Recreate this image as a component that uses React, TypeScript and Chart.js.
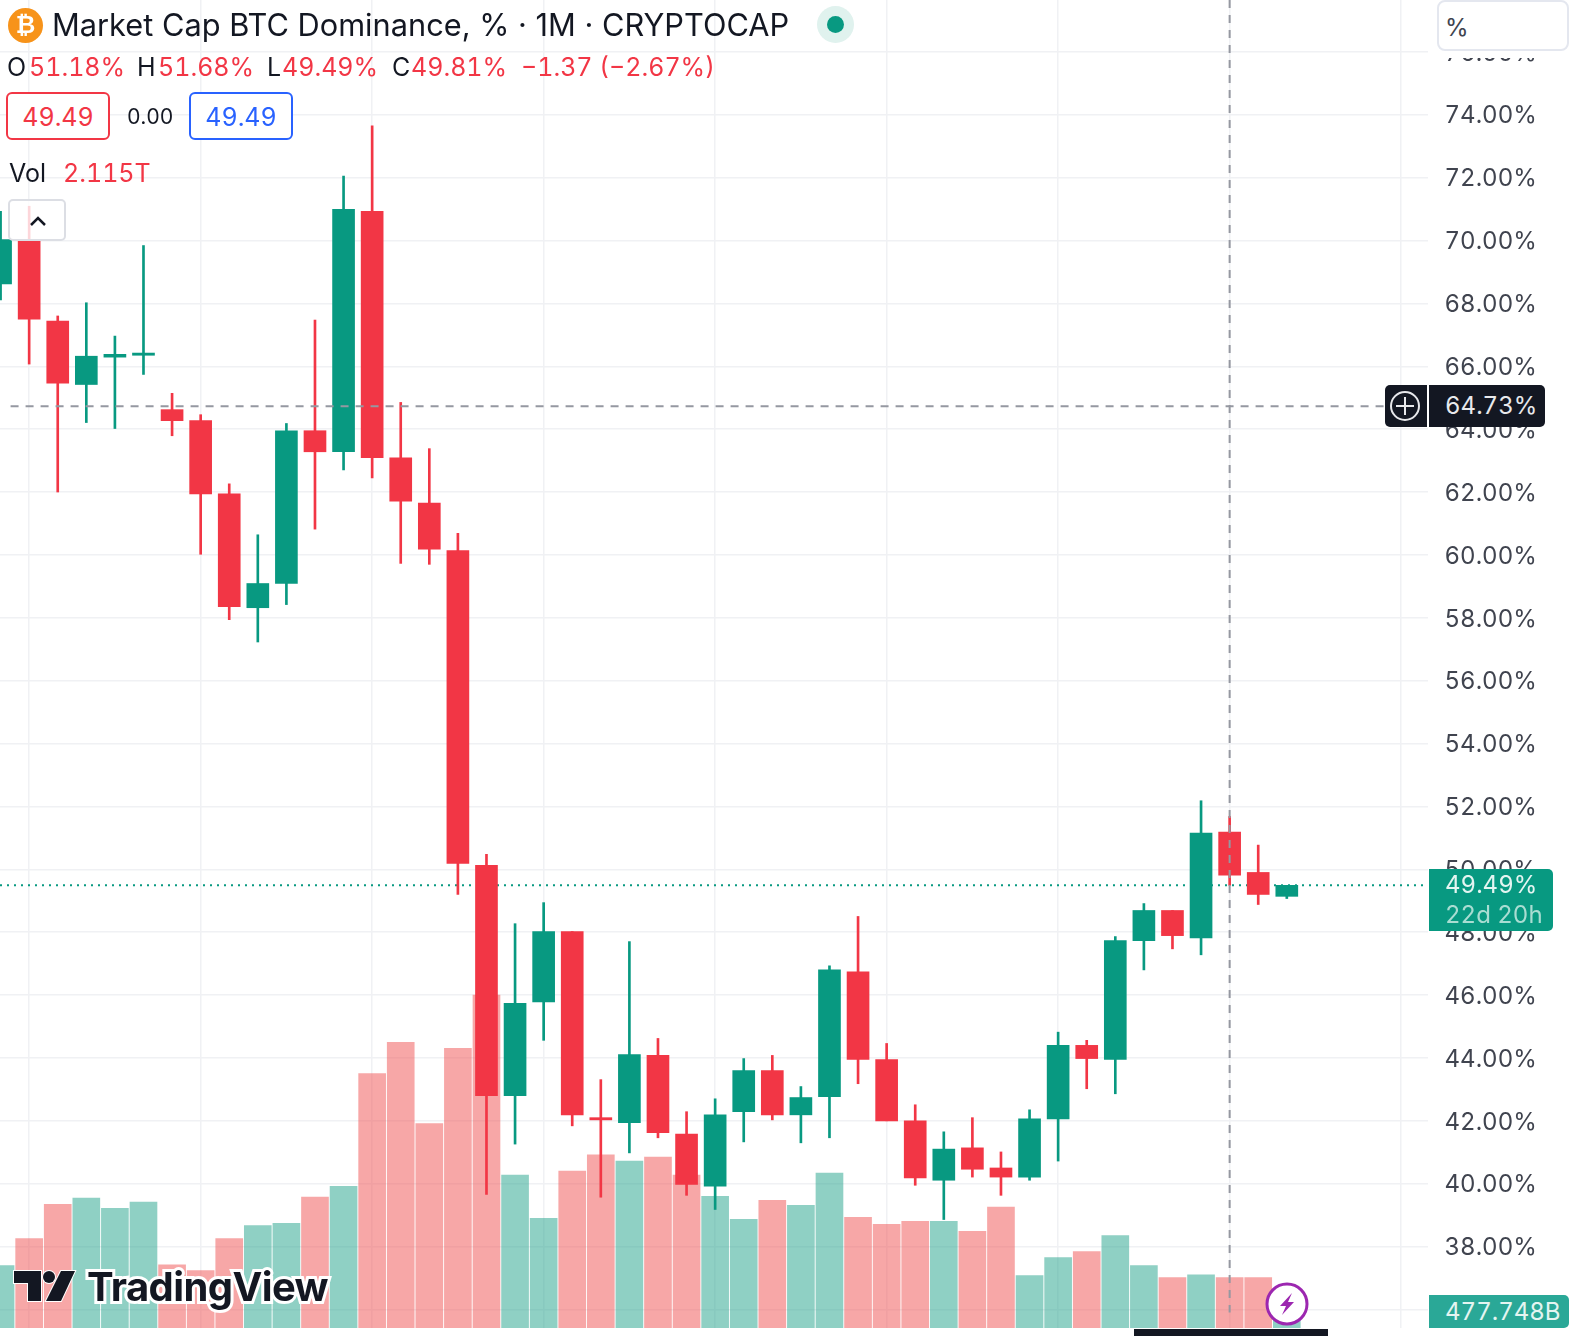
import React, { useEffect, useRef } from "react";
import { Chart, registerables } from "chart.js";

Chart.register(...registerables);

const opens = [68.62,70.03,67.44,65.42,66.29,66.35,64.62,64.27,61.94,58.32,59.09,63.95,63.28,70.93,63.09,61.65,60.14,50.13,42.80,45.78,48.02,42.10,41.94,44.08,41.58,39.92,42.29,43.60,42.19,42.77,46.74,43.95,42.00,40.11,41.14,40.50,40.21,42.06,44.40,43.95,47.73,48.69,47.82,51.18,49.90,49.14];
const highs = [70.93,71.09,67.60,68.02,66.96,69.84,65.14,64.46,62.26,60.64,64.18,67.47,72.05,73.65,64.85,63.38,60.69,50.48,48.27,48.94,48.02,43.31,47.70,44.62,42.29,42.70,43.98,44.08,43.09,46.93,48.50,44.46,42.51,41.65,42.10,41.01,42.35,44.82,44.56,47.86,48.91,48.69,52.18,51.68,50.77,49.49];
const lows = [68.11,66.07,62.00,64.21,64.02,65.74,63.79,60.02,57.94,57.23,58.42,60.82,62.70,62.45,59.73,59.70,49.20,39.66,41.26,44.56,41.84,39.57,40.98,41.46,39.63,39.18,41.33,42.03,41.30,41.46,43.18,42.00,39.95,38.86,40.21,39.63,40.11,40.72,43.02,42.86,46.80,47.47,47.28,49.49,48.88,49.07];
const closes = [70.03,67.50,65.46,66.32,66.38,66.42,64.27,61.94,58.35,59.09,63.95,63.28,70.99,63.09,61.71,60.18,50.19,42.80,45.74,48.02,42.19,42.03,44.11,41.62,39.98,42.19,43.60,42.19,42.74,46.80,43.95,42.00,40.18,41.10,40.46,40.21,42.06,44.40,43.98,47.73,48.69,47.89,51.15,49.81,49.20,49.49];
const volumesT = [2.62,3.76,5.20,5.46,5.03,5.29,2.66,2.41,3.76,4.31,4.40,5.50,5.96,10.70,12.01,8.59,11.76,14.00,6.43,4.61,6.60,7.28,7.02,7.19,6.43,5.54,4.57,5.37,5.16,6.51,4.65,4.36,4.48,4.48,4.06,5.08,2.20,2.96,3.21,3.89,2.62,2.115,2.24,2.115,2.115,0.478];
const priceTicks = [36,38,40,42,44,46,48,50,52,54,56,58,60,62,64,66,68,70,72,74,76];
const gridCandles = [1,7,13,19,25,31,37,43,49];
const crosshairPrice = 64.73;
const crosshairCandle = 43;
const lastPrice = 49.49;

const RED = "#F23645";
const GREEN = "#089981";
const INK = "#131722";
const FONT = "Inter, 'Noto Sans', sans-serif";

type BoxProps = { x: number; y: number; w?: number; h?: number; style?: React.CSSProperties; children?: React.ReactNode };
function Box({ x, y, w, h, style, children }: BoxProps) {
  return (
    <div style={{ position: "absolute", left: x, top: y, width: w, height: h, whiteSpace: "nowrap", boxSizing: "border-box", ...style }}>
      {children}
    </div>
  );
}

function Txt({ x, cy, size = 25, color = INK, children, style }: { x: number; cy: number; size?: number; color?: string; children: React.ReactNode; style?: React.CSSProperties }) {
  return (
    <div style={{ position: "absolute", left: x, top: cy - 30, height: 60, lineHeight: "60px", fontSize: size, color, whiteSpace: "nowrap", ...style }}>
      {children}
    </div>
  );
}

export default function App() {
  const ref = useRef<HTMLCanvasElement>(null);
  useEffect(() => {
    const idx = opens.map((_, i) => i);
    const up = idx.map((i) => closes[i] >= opens[i]);
    const chart = new Chart(ref.current as HTMLCanvasElement, {
      data: {
        datasets: [
          {
            type: "bar",
            yAxisID: "vol",
            order: 9,
            grouped: false,
            barThickness: 27,
            data: idx.map((i) => ({ x: i, y: volumesT[i] })),
            backgroundColor: idx.map((i) => (up[i] ? "rgba(31,161,137,0.5)" : "rgba(239,79,79,0.5)")),
          },
          {
            type: "line",
            yAxisID: "y",
            order: 8,
            pointRadius: 0,
            borderWidth: 2,
            borderDash: [2, 5],
            borderColor: GREEN,
            data: [{ x: -1, y: lastPrice }, { x: 51, y: lastPrice }],
          },
          {
            type: "bar",
            yAxisID: "y",
            order: 7,
            grouped: false,
            barThickness: 2,
            data: idx.map((i) => ({ x: i, y: [lows[i], highs[i]] })),
            backgroundColor: idx.map((i) => (up[i] ? GREEN : RED)),
          },
          {
            type: "bar",
            yAxisID: "y",
            order: 6,
            grouped: false,
            barThickness: 22,
            data: idx.map((i) => ({ x: i, y: [opens[i], closes[i]] })),
            backgroundColor: idx.map((i) => (up[i] ? GREEN : RED)),
          },
          {
            type: "line",
            yAxisID: "y",
            order: 2,
            pointRadius: 0,
            borderWidth: 2,
            borderDash: [8, 7],
            borderColor: "#9598a1",
            data: [{ x: 0.35, y: crosshairPrice }, { x: 48.45, y: crosshairPrice }],
          },
          {
            type: "line",
            yAxisID: "y",
            order: 1,
            pointRadius: 0,
            borderWidth: 2,
            borderDash: [8, 7],
            borderColor: "#9598a1",
            data: [{ x: crosshairCandle, y: 77.65 }, { x: crosshairCandle, y: 35.9 }],
          },
        ],
      } as any,
      options: {
        responsive: false,
        animation: false,
        layout: { padding: { top: 0, right: 0, bottom: 8, left: 0 } },
        plugins: { legend: { display: false }, tooltip: { enabled: false } },
        scales: {
          x: {
            type: "linear",
            offset: false,
            min: -0.02,
            max: 49.94,
            border: { display: false },
            grid: { offset: false, color: "#f0f1f4", lineWidth: 1.5, drawTicks: false },
            ticks: { display: false },
            afterBuildTicks: (s: any) => { s.ticks = gridCandles.map((value) => ({ value })); },
          },
          y: {
            position: "right",
            min: 35.41,
            max: 77.65,
            border: { display: false },
            grid: { color: "#f0f1f4", lineWidth: 1.5, drawTicks: false },
            ticks: {
              color: "#40444f",
              padding: 16.5,
              font: { family: FONT, size: 24, lineHeight: "3px" },
              callback: (v: any) => ["", `${Number(v).toFixed(2)}%`],
            },
            afterBuildTicks: (s: any) => { s.ticks = priceTicks.map((value) => ({ value })); },
            afterFit: (s: any) => { s.width = 150; s.paddingTop = 0; s.paddingBottom = 0; },
          },
          vol: { display: false, min: 0, max: 55.83 },
        },
      } as any,
    });
    return () => chart.destroy();
  }, []);

  const labelText: React.CSSProperties = { fontSize: 24 };

  return (
    <div style={{ position: "absolute", left: 0, top: 0, width: 1578, height: 1336, overflow: "hidden", background: "#fff", fontFamily: FONT, fontVariantNumeric: "tabular-nums" }}>
      <canvas ref={ref} width={1578} height={1336} style={{ position: "absolute", left: 0, top: 0, display: "block" }} />

      {/* symbol header */}
      <Box x={8} y={8} w={35} h={35} style={{ borderRadius: "50%", background: "#F7931A", color: "#fff", fontSize: 24, fontWeight: 700, textAlign: "center", lineHeight: "35px", fontFamily: "'DejaVu Sans', sans-serif" }}>₿</Box>
      <Txt x={52} cy={25} size={30.75} style={{ fontVariantNumeric: "normal" }}>Market Cap BTC Dominance, % · 1M · CRYPTOCAP</Txt>
      <Box x={817} y={6} w={37} h={37} style={{ borderRadius: "50%", background: "#e0f2ee" }} />
      <Box x={827} y={16} w={17} h={17} style={{ borderRadius: "50%", background: GREEN }} />

      {/* OHLC row */}
      <Txt x={7} cy={67}>O</Txt>
      <Txt x={29} cy={67} color={RED}>51.18%</Txt>
      <Txt x={137} cy={67}>H</Txt>
      <Txt x={158} cy={67} color={RED}>51.68%</Txt>
      <Txt x={267} cy={67}>L</Txt>
      <Txt x={282} cy={67} color={RED}>49.49%</Txt>
      <Txt x={392} cy={67}>C</Txt>
      <Txt x={411} cy={67} color={RED}>49.81%</Txt>
      <Txt x={521} cy={67} color={RED}>−1.37 (−2.67%)</Txt>

      {/* spread boxes */}
      <Box x={6} y={92} w={104} h={48} style={{ border: `2px solid ${RED}`, borderRadius: 6, background: "#fff", color: RED, fontSize: 25, lineHeight: "46px", textAlign: "center" }}>49.49</Box>
      <Txt x={127} cy={117} size={21}>0.00</Txt>
      <Box x={189} y={92} w={104} h={48} style={{ border: "2px solid #2962FF", borderRadius: 6, background: "#fff", color: "#2962FF", fontSize: 25, lineHeight: "46px", textAlign: "center" }}>49.49</Box>

      {/* volume legend */}
      <Txt x={9} cy={173}>Vol</Txt>
      <Txt x={63} cy={173} color={RED}>2.115T</Txt>

      {/* collapse button */}
      <Box x={8} y={199} w={58} h={42} style={{ border: "2px solid #dcdee4", borderRadius: 5, background: "rgba(255,255,255,0.8)" }}>
        <svg width="54" height="38" style={{ display: "block" }}>
          <path d="M21 24 L28 17 L35 24" fill="none" stroke={INK} strokeWidth="2.5" />
        </svg>
      </Box>

      {/* scale mode box */}
      <Box x={1437} y={51} w={132} h={7} style={{ background: "#fff" }} />
      <Box x={1437} y={0} w={132} h={51} style={{ border: "2px solid #e4e7ef", borderRadius: 8, background: "#fff", color: "#40444f", fontSize: 24, lineHeight: "52px", paddingLeft: 6 }}>%</Box>

      {/* crosshair labels */}
      <Box x={1385} y={385} w={42} h={42} style={{ background: INK, borderRadius: "5px 0 0 5px" }}>
        <svg width="42" height="42" style={{ display: "block" }}>
          <circle cx="20" cy="21" r="14" fill="none" stroke="#e8e9ec" strokeWidth="2" />
          <path d="M20 12 V30 M11 21 H29" stroke="#e8e9ec" strokeWidth="2" />
        </svg>
      </Box>
      <Box x={1429} y={385} w={116} h={42} style={{ background: INK, borderRadius: "0 5px 5px 0", color: "#e8e9ec", lineHeight: "42px", paddingLeft: 16, ...labelText }}>64.73%</Box>

      {/* last price label */}
      <Box x={1429} y={869} w={124} h={62} style={{ background: GREEN, borderRadius: "0 5px 5px 0", color: "#e4f5f1", paddingLeft: 16, paddingTop: 1, lineHeight: "30px", ...labelText }}>
        <div>49.49%</div>
        <div style={{ color: "#a9ddd2" }}>22d 20h</div>
      </Box>

      {/* last volume label */}
      <Box x={1429} y={1295} w={140} h={33} style={{ background: "#2AA897", borderRadius: "0 5px 5px 0", color: "#e4f5f1", lineHeight: "34px", paddingLeft: 16, ...labelText }}>477.748B</Box>

      {/* TradingView mark */}
      <svg width="70" height="40" style={{ position: "absolute", left: 11, top: 1268 }}>
        <g fill={INK} stroke="#fff" strokeWidth="2" paintOrder="stroke">
          <path d="M3 3 H30 V33 H17 V15 H3 Z" />
          <circle cx="38" cy="9" r="6" />
          <path d="M50 3 H64 L50 33 H35 Z" />
        </g>
      </svg>
      <Txt x={87} cy={1287} size={40} style={{ fontWeight: 700, letterSpacing: -0.6, WebkitTextStroke: "6px #fff", paintOrder: "stroke fill" } as React.CSSProperties}>TradingView</Txt>

      {/* lightning badge */}
      <svg width="46" height="46" style={{ position: "absolute", left: 1264, top: 1282 }}>
        <circle cx="23" cy="22" r="20" fill="#fff" stroke="#9C27B0" strokeWidth="3" />
        <path d="M28 11 L16 24 H22 L18 33 L30 20 H24 Z" fill="#9C27B0" />
      </svg>

      {/* bottom strip */}
      <Box x={1134} y={1329} w={194} h={7} style={{ background: INK }} />
    </div>
  );
}
